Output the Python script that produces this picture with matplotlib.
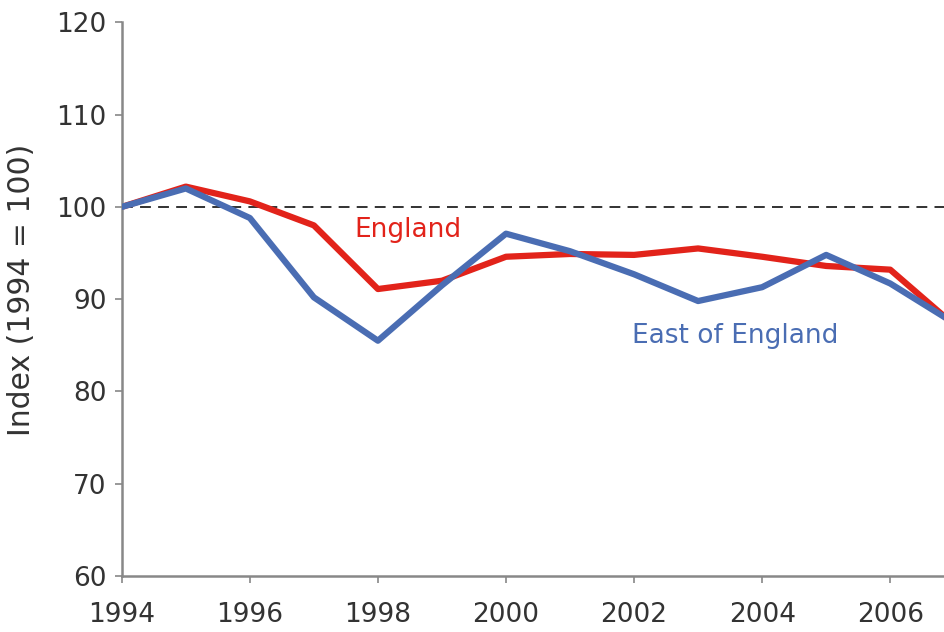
import matplotlib
matplotlib.use("Agg")
import matplotlib.pyplot as plt

plt.rcParams["font.family"] = ["DejaVu Sans"]

years = [1994, 1995, 1996, 1997, 1998, 1999, 2000, 2001, 2002, 2003, 2004, 2005, 2006, 2007]
england = [100, 102.2, 100.6, 98.0, 91.1, 92.0, 94.6, 94.9, 94.8, 95.5, 94.6, 93.6, 93.2, 87.2]
east_of_england = [100, 102.0, 98.8, 90.2, 85.5, 91.5, 97.1, 95.2, 92.7, 89.8, 91.3, 94.8, 91.7, 87.4]
xticks = [1994, 1996, 1998, 2000, 2002, 2004, 2006]
yticks = [60, 70, 80, 90, 100, 110, 120]

red = "#e2231a"
blue = "#4a6db3"

fig = plt.figure(figsize=(9.44, 6.32), dpi=100)
ax = fig.add_axes([0.129, 0.0886, 0.871, 0.876])

ax.axhline(100, color="#222222", lw=1.3, ls=(0, (6, 4)), zorder=1)
ax.plot(years, england, color=red, lw=4.5, solid_joinstyle="round", zorder=2)
ax.plot(years, east_of_england, color=blue, lw=4.5, solid_joinstyle="round", zorder=3)

ax.set_xlim(1994, 2006.84)
ax.set_ylim(60, 120)
ax.set_xticks(xticks)
ax.set_yticks(yticks)
ax.set_xticklabels([str(x) for x in xticks])
ax.tick_params(axis="both", labelsize=19, labelcolor="#333333", direction="out", length=5, width=1.2, color="#888888")
ax.tick_params(axis="x", pad=14)
ax.tick_params(axis="y", pad=6)
for s in ["top", "right"]:
    ax.spines[s].set_visible(False)
for s in ["left", "bottom"]:
    ax.spines[s].set_color("#888888")
    ax.spines[s].set_linewidth(1.8)

ax.set_ylabel("Index (1994 = 100)", fontsize=21.5, color="#333333")
ax.yaxis.set_label_coords(-0.104, 0.516)

ax.text(1998.47, 97.5, "England", color=red, fontsize=19, ha="center", va="center")
ax.text(2003.58, 86.0, "East of England", color=blue, fontsize=19, ha="center", va="center")

fig.savefig("out.png", dpi=100)
